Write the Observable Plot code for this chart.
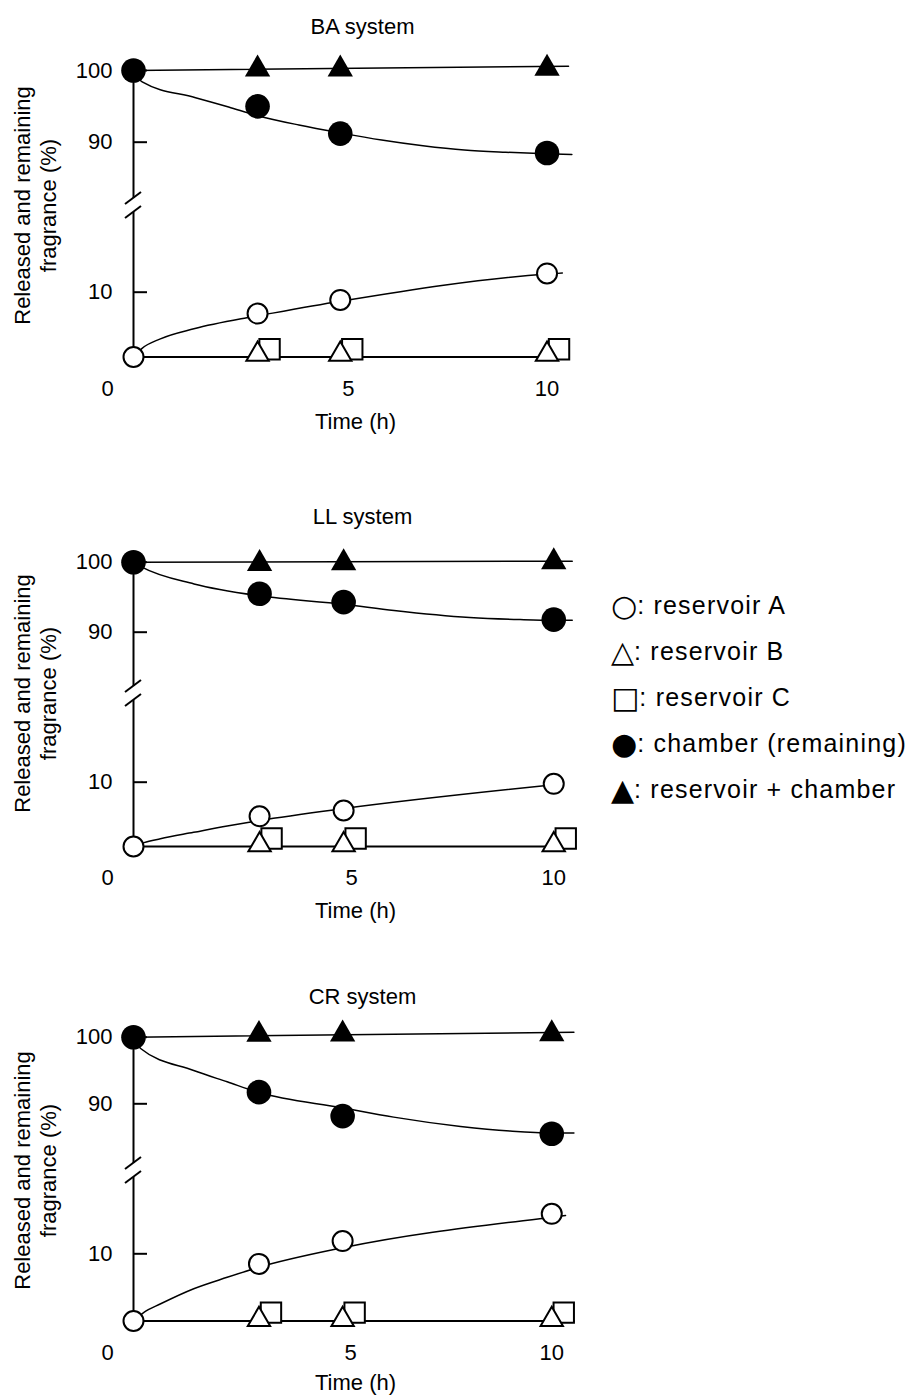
<!DOCTYPE html>
<html>
<head>
<meta charset="utf-8">
<script src="https://cdn.jsdelivr.net/npm/d3@7"></script>
<script src="https://cdn.jsdelivr.net/npm/@observablehq/plot@0.6"></script>
<style>
  body { margin: 0; background: #fff; }
  #root { position: relative; width: 917px; height: 1395px; background: #fff;
          font-family: "Liberation Sans", Arial, sans-serif; color: #000; }
  .panel { position: absolute; left: 0; }
  #legend { position: absolute; left: 611px; top: 582px; font-size: 25px; line-height: 46px;
            letter-spacing: 1.2px; white-space: nowrap; }
  #legend .sym { font-family: "DejaVu Sans", sans-serif; font-size: 30px; letter-spacing: 0;
                 display: inline-block; line-height: 46px; vertical-align: top; position: relative; top: 1px; }
</style>
</head>
<body>
<div id="root"><div id="legend"></div></div>
<script>
// ---------- data ----------
const times = [0, 3, 5, 10];
const systems = ["BA system", "LL system", "CR system"];
const xTicks = [0, 5, 10];
const yTicks = [10, 90, 100];
const yLabel = "Released and remaining\nfragrance (%)";
const xLabel = "Time (h)";
const legendSymbols = ["○", "△", "□", "●", "▲"];
const legendLabels = ["reservoir A", "reservoir B", "reservoir C", "chamber (remaining)", "reservoir + chamber"];

// BA system
const baResA = [0, 6.7, 8.8, 12.9];
const baResB = [0, 0.4, 0.4, 0.4];
const baResC = [0, 1.2, 1.2, 1.2];
const baChamber = [100, 95.0, 91.2, 88.5];
const baTotal = [100, 100.2, 100.2, 100.3];
// BA fitted curves as drawn
const baFitAT = [0, 0.2, 0.65, 1.46, 2.74, 3, 5, 10, 10.37];
const baFitA = [0, 1.3, 2.8, 4.35, 6.05, 6.35, 8.6, 12.8, 12.95];
const baFitChT = [0, 0.21, 1.5, 2.3, 3, 4, 5, 6, 7, 8, 9, 10, 10.6];
const baFitCh = [100, 98.4, 96.2, 94.9, 93.7, 92.4, 91.3, 90.3, 89.5, 88.9, 88.6, 88.4, 88.3];
const baFitTotT = [0, 10.52];
const baFitTot = [100, 100.6];
const baFitBCT = [0, 10.52];
const baFitBC = [0, 0];

// LL system
const llResA = [0, 4.7, 5.6, 9.75];
const llResB = [0, 0.25, 0.25, 0.25];
const llResC = [0, 1.25, 1.25, 1.25];
const llChamber = [100, 95.5, 94.3, 91.8];
const llTotal = [100, 99.8, 99.9, 100.05];
const llFitAT = [0, 0.25, 0.64, 1.43, 2.23, 2.86, 3, 5, 10];
const llFitA = [0, 0.6, 1.2, 2.2, 3.2, 3.9, 4.05, 5.9, 9.6];
const llFitChT = [0, 0.2, 1.44, 3, 5, 6.2, 8, 9.2, 10, 10.44];
const llFitCh = [100, 99.3, 96.9, 95.2, 94.0, 93.1, 92.1, 91.8, 91.7, 91.7];
const llFitTotT = [0, 10.44];
const llFitTot = [100, 100.15];
const llFitBCT = [0, 10.47];
const llFitBC = [0, 0];

// CR system
const crResA = [0, 8.5, 11.9, 15.95];
const crResB = [0, 0.2, 0.2, 0.2];
const crResC = [0, 1.25, 1.25, 1.25];
const crChamber = [100, 91.75, 88.15, 85.5];
const crTotal = [100, 100.4, 100.45, 100.5];
const crFitAT = [0, 0.25, 0.65, 1.44, 2.24, 3, 5, 10, 10.33];
const crFitA = [0, 1.3, 2.56, 4.8, 6.5, 8.0, 10.9, 15.45, 15.7];
const crFitChT = [0, 0.17, 1.44, 2.24, 3, 5, 6.22, 7.82, 9, 10, 10.53];
const crFitCh = [100, 98.3, 95.0, 93.3, 91.7, 89.4, 88.0, 86.6, 85.9, 85.6, 85.6];
const crFitTotT = [0, 10.53];
const crFitTot = [100, 100.75];
const crFitBCT = [0, 10.53];
const crFitBC = [0, 0];

// ---------- assembly ----------
const panels = [
  {title: systems[0], A: baResA, B: baResB, C: baResC, ch: baChamber, tot: baTotal,
   fits: [[baFitAT, baFitA], [baFitChT, baFitCh], [baFitTotT, baFitTot]], base: [baFitBCT, baFitBC]},
  {title: systems[1], A: llResA, B: llResB, C: llResC, ch: llChamber, tot: llTotal,
   fits: [[llFitAT, llFitA], [llFitChT, llFitCh], [llFitTotT, llFitTot]], base: [llFitBCT, llFitBC]},
  {title: systems[2], A: crResA, B: crResB, C: crResC, ch: crChamber, tot: crTotal,
   fits: [[crFitAT, crFitA], [crFitChT, crFitCh], [crFitTotT, crFitTot]], base: [crFitBCT, crFitBC]}
];

// page-pixel layout of each panel (layout only)
const layouts = [
  {top: 0,   y0: 356.5,  y10: 291.7,  y90: 141.7,  y100: 70,     yc: 205,  xEnd: 10.64, title: 26.7,  time: 421.7},
  {top: 480, y0: 846,    y10: 781.7,  y90: 631.7,  y100: 561.7,  yc: 693,  xEnd: 10.47, title: 516.7, time: 910},
  {top: 955, y0: 1320.5, y10: 1253.3, y90: 1103.3, y100: 1036.7, yc: 1170, xEnd: 10.52, title: 996.7, time: 1382.3}
];

function breakMarks(L, U) {
  return (index, scales) => {
    const g = d3.create("svg:g").attr("stroke", "black").attr("stroke-width", 2);
    const x0 = scales.x(xTicks[0]);
    for (const v of [L, U]) {
      const yy = scales.y(v);
      g.append("line").attr("x1", x0 - 8).attr("y1", yy + 6).attr("x2", x0 + 8).attr("y2", yy - 6);
    }
    return g.node();
  };
}

function makePanel(p, lay) {
  const W = 600, H = 440;
  const y0 = lay.y0 - lay.top, y10 = lay.y10 - lay.top, y90 = lay.y90 - lay.top,
        y100 = lay.y100 - lay.top, yc = lay.yc - lay.top;
  const yL = yc + 7, yU = yc - 7;
  const L = 10 * (y0 - yL) / (y0 - y10);
  const U = 100 - 10 * (yU - y100) / (y90 - y100);
  const pts = times.map((t, i) => ({t, A: p.A[i], B: p.B[i], C: p.C[i], ch: p.ch[i], tot: p.tot[i]}));
  const fitRows = p.fits.flatMap(([T, V], k) => T.map((t, i) => ({t, v: V[i], k})));
  const baseRows = p.base[0].map((t, i) => ({t, v: p.base[1][i]}));
  const later = d => d.t > 0;
  const tickOpts = {tickSize: 0, tickPadding: 23, label: null};
  return Plot.plot({
    width: W, height: H,
    marginLeft: 133, marginRight: 27, marginTop: 0, marginBottom: H - y0,
    style: {fontFamily: "'Liberation Sans', Arial, sans-serif", fontSize: "22px", background: "white", overflow: "visible"},
    x: {domain: [0, lay.xEnd]},
    y: {type: "linear", domain: [0, L, U, 100], range: [y0, yL, yU, y100]},
    marks: [
      Plot.line(baseRows, {x: "t", y: "v", stroke: "black", strokeWidth: 2}),
      Plot.line(fitRows, {x: "t", y: "v", z: "k", curve: "monotone-x", stroke: "black", strokeWidth: 1.5}),
      Plot.ruleX([{a: 0, b: L}, {a: U, b: yTicks[yTicks.length - 1]}],
                 {x: () => xTicks[0], y1: "a", y2: "b", stroke: "black", strokeWidth: 2}),
      breakMarks(L, U),
      Plot.axisY(yTicks, {tickSize: 14, dx: 14, tickPadding: 21, strokeWidth: 2, label: null}),
      Plot.axisX([xTicks[0]], {...tickOpts, dx: -26}),
      Plot.axisX([xTicks[1]], {...tickOpts, dx: 8}),
      Plot.axisX([xTicks[2]], {...tickOpts, dx: 0}),
      Plot.text([p.title], {text: d => d, frameAnchor: "top", lineAnchor: "middle", dx: 9, dy: lay.title - lay.top}),
      Plot.text([xLabel], {text: d => d, frameAnchor: "bottom", lineAnchor: "middle", dx: 2, dy: lay.time - lay.y0}),
      Plot.text([yLabel], {text: d => d, frameAnchor: "left", rotate: -90, textAnchor: "middle",
                           lineAnchor: "middle", lineHeight: 1.18, dx: -99, dy: yc - y0 / 2}),
      Plot.dot(pts, {filter: later, x: "t", y: "C", symbol: "square", r: 11.5, fill: "white", stroke: "black", strokeWidth: 2, dx: 12}),
      Plot.dot(pts, {filter: later, x: "t", y: "B", symbol: "triangle", r: 8.3, fill: "white", stroke: "black", strokeWidth: 2}),
      Plot.dot(pts, {x: "t", y: "A", r: 10, fill: "white", stroke: "black", strokeWidth: 2}),
      Plot.dot(pts, {filter: later, x: "t", y: "tot", symbol: "triangle", r: 9.4, fill: "black", stroke: "none"}),
      Plot.dot(pts, {x: "t", y: "ch", r: 12.3, fill: "black", stroke: "none"})
    ]
  });
}

const root = document.getElementById("root");
panels.forEach((p, i) => {
  const svg = makePanel(p, layouts[i]);
  svg.classList.add("panel");
  svg.style.position = "absolute";
  svg.style.left = "0px";
  svg.style.top = layouts[i].top + "px";
  root.appendChild(svg);
});

const legend = document.getElementById("legend");
legendLabels.forEach((lab, i) => {
  const row = document.createElement("div");
  const s = document.createElement("span");
  s.className = "sym";
  s.textContent = legendSymbols[i];
  row.appendChild(s);
  row.appendChild(document.createTextNode(": " + lab));
  legend.appendChild(row);
});
</script>
</body>
</html>
